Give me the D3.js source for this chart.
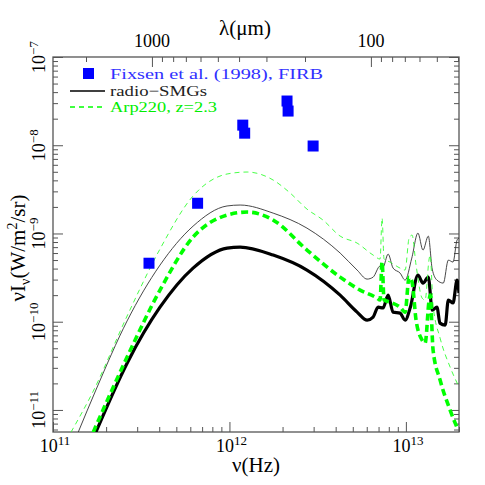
<!DOCTYPE html>
<html>
<head>
<meta charset="utf-8">
<script src="https://cdn.jsdelivr.net/npm/d3@7"></script>
<style>
body { margin: 0; background: #fff; }
svg text { font-family: "Liberation Serif", "Times New Roman", serif; }
</style>
</head>
<body>
<div id="chart"></div>
<script>
// frequencies in units of 1e12 Hz, intensities (nu I_nu) in units of 1e-9 W/m2/sr

// Fixsen et al. (1998) FIRB points
var firbNu = [0.35, 0.66, 1.19, 1.22, 2.12, 2.15, 2.98];
var firbI = [0.46, 2.2, 16.9, 13.7, 31.7, 24.4, 9.8];

// radio-SMGs, thick solid
var smgThickNu = [0.175, 0.263, 0.404, 0.622, 0.97, 1.15, 1.77, 2.75, 4.24, 5.29, 6.03, 6.52, 6.96, 7.42, 7.93, 8.46, 9.27, 9.9, 10.6, 11.7, 12.5, 13.4, 14.1, 15.0, 15.6, 16.7, 17.4, 18.5, 19.5, 20.0];
var smgThickI = [0.0056, 0.0339, 0.146, 0.405, 0.683, 0.701, 0.569, 0.385, 0.200, 0.1285, 0.1042, 0.1128, 0.146, 0.143, 0.200, 0.1285, 0.125, 0.1042, 0.146, 0.338, 0.274, 0.320, 0.135, 0.146, 0.0964, 0.0915, 0.176, 0.163, 0.296, 0.211];

// radio-SMGs, thin solid
var smgThinNu = [0.139, 0.175, 0.263, 0.404, 0.622, 0.97, 1.15, 1.77, 2.75, 4.24, 5.29, 6.03, 6.52, 7.14, 7.42, 7.93, 8.46, 9.27, 9.9, 10.8, 11.7, 12.5, 13.4, 14.1, 15.0, 16.3, 17.4, 18.5, 19.5, 20.0];
var smgThinI = [0.0056, 0.0168, 0.102, 0.438, 1.21, 2.05, 2.10, 1.70, 1.15, 0.600, 0.385, 0.304, 0.320, 0.427, 0.416, 0.584, 0.405, 0.356, 0.296, 0.526, 1.01, 0.648, 0.934, 0.395, 0.296, 0.274, 0.499, 0.474, 0.841, 0.887];

// Arp220 z=2.3, thick dashed
var arpThickNu = [0.169, 0.263, 0.404, 0.622, 0.97, 1.26, 1.77, 2.75, 4.24, 5.50, 6.87, 7.14, 7.33, 7.52, 8.14, 9.27, 9.9, 10.43, 10.84, 11.42, 12.36, 12.85, 13.54, 13.72, 14.26, 15.63, 17.81, 19.77];
var arpThickI = [0.0056, 0.0397, 0.228, 0.910, 1.617, 1.748, 1.419, 0.648, 0.320, 0.228, 0.185, 0.176, 0.474, 0.176, 0.167, 0.146, 0.1285, 0.320, 0.281, 0.1042, 0.0619, 0.0572, 0.176, 0.200, 0.0476, 0.0218, 0.00995, 0.0059];

// Arp220 z=2.3, thin dashed
var arpThinNu = [0.1265, 0.169, 0.263, 0.404, 0.622, 0.97, 1.26, 1.77, 2.21, 2.75, 3.39, 4.24, 5.29, 6.52, 7.14, 7.33, 7.52, 8.14, 9.27, 9.9, 10.43, 10.84, 11.42, 12.36, 12.85, 13.54, 13.72, 14.26, 15.63, 17.81, 20.03];
var arpThinI = [0.0056, 0.0163, 0.116, 0.666, 2.66, 4.72, 4.97, 4.03, 2.87, 1.89, 1.42, 0.934, 0.778, 0.569, 0.513, 1.495, 0.513, 0.474, 0.405, 0.385, 0.887, 0.959, 0.438, 0.185, 0.176, 0.513, 0.569, 0.154, 0.0652, 0.0306, 0.0181];

// axis tick values
var nuMajor = [1e11, 1e12, 1e13];
var nuMajorExp = ["11", "12", "13"];
var iMajor = [1e-7, 1e-8, 1e-9, 1e-10, 1e-11];
var iMajorExp = ["\u22127", "\u22128", "\u22129", "\u221210", "\u221211"];
var lamMajor = [1000, 100];

var legendLabels = ["Fixsen et al. (1998), FIRB", "radio\u2212SMGs", "Arp220, z=2.3"];

var width = 485, height = 485;
var plot = {left: 53, right: 459, top: 57, bottom: 432};

var svg = d3.select("#chart").append("svg")
    .attr("width", width)
    .attr("height", height);

var x = d3.scaleLog().domain([1e11, 2e13]).range([plot.left, plot.right]);
var y = d3.scaleLog().domain([Math.pow(10, -11.25), 1e-7]).range([plot.bottom, plot.top]);
// top wavelength axis (microns)
var xl = d3.scaleLog().domain([2830, 39.6]).range([plot.left, plot.right]);

function pairs(nu, I) {
    return nu.map(function(d, i) { return [d * 1e12, I[i] * 1e-9]; });
}

function isPow10(v) {
    var l = Math.log10(v);
    return Math.abs(l - Math.round(l)) < 1e-6;
}

var axisColor = "#555";

// ticks: minor then major, all pointing inward
function drawTicks(axis, tr, values, size) {
    var g = svg.append("g")
        .attr("transform", tr)
        .call(axis.tickValues(values).tickSize(-size).tickFormat(""));
    g.select(".domain").remove();
    g.selectAll("line").attr("stroke", axisColor).attr("stroke-width", 1);
}

var xMinor = x.ticks().filter(function(d) { return !isPow10(d); });
var yMinor = y.ticks().filter(function(d) { return !isPow10(d); });
var lMinor = xl.ticks().filter(function(d) { return !isPow10(d); });

drawTicks(d3.axisBottom(x), "translate(0," + plot.bottom + ")", xMinor, 5);
drawTicks(d3.axisBottom(x), "translate(0," + plot.bottom + ")", nuMajor, 10);
drawTicks(d3.axisTop(xl), "translate(0," + plot.top + ")", lMinor, 5);
drawTicks(d3.axisTop(xl), "translate(0," + plot.top + ")", lamMajor, 10);
drawTicks(d3.axisLeft(y), "translate(" + plot.left + ",0)", yMinor, 5);
drawTicks(d3.axisLeft(y), "translate(" + plot.left + ",0)", iMajor, 10);
drawTicks(d3.axisRight(y), "translate(" + plot.right + ",0)", yMinor, 5);
drawTicks(d3.axisRight(y), "translate(" + plot.right + ",0)", iMajor, 10);

// frame
svg.append("rect")
    .attr("x", plot.left).attr("y", plot.top)
    .attr("width", plot.right - plot.left).attr("height", plot.bottom - plot.top)
    .attr("fill", "none").attr("stroke", axisColor).attr("stroke-width", 1.3);

// tick labels
nuMajor.forEach(function(v, i) {
    var t = svg.append("text")
        .attr("x", x(v) + 2).attr("y", 452)
        .attr("text-anchor", "middle")
        .attr("font-size", 18);
    t.append("tspan").text("10");
    t.append("tspan").attr("font-size", 13).attr("dy", -7).text(nuMajorExp[i]);
});

iMajor.forEach(function(v, i) {
    var t = svg.append("text")
        .attr("transform", "translate(45," + y(v) + ") rotate(-90)")
        .attr("text-anchor", "middle")
        .attr("font-size", 18);
    t.append("tspan").text("10");
    t.append("tspan").attr("font-size", 13).attr("dy", -7).text(iMajorExp[i]);
});

lamMajor.forEach(function(v) {
    svg.append("text")
        .attr("x", xl(v)).attr("y", 47)
        .attr("text-anchor", "middle")
        .attr("font-size", 18)
        .text(v);
});

// axis titles
svg.append("text")
    .attr("x", 245).attr("y", 35)
    .attr("text-anchor", "middle")
    .attr("font-size", 21)
    .text("\u03bb(\u03bcm)");

svg.append("text")
    .attr("x", 256).attr("y", 472)
    .attr("text-anchor", "middle")
    .attr("font-size", 21)
    .text("\u03bd(Hz)");

var yt = svg.append("text")
    .attr("transform", "translate(25,248) rotate(-90)")
    .attr("text-anchor", "middle")
    .attr("font-size", 21);
yt.append("tspan").text("\u03bdI");
yt.append("tspan").attr("font-size", 14).attr("dy", 5).text("\u03bd");
yt.append("tspan").attr("dy", -5).text("(W/m");
yt.append("tspan").attr("font-size", 14).attr("dy", -8).text("2");
yt.append("tspan").attr("dy", 8).text("/sr)");

// curves
svg.append("clipPath").attr("id", "clip")
    .append("rect")
    .attr("x", plot.left).attr("y", plot.top)
    .attr("width", plot.right - plot.left).attr("height", plot.bottom - plot.top);

var line = d3.line()
    .x(function(d) { return x(d[0]); })
    .y(function(d) { return y(d[1]); })
    .curve(d3.curveMonotoneX);

var curves = svg.append("g").attr("clip-path", "url(#clip)");

curves.append("path")
    .attr("d", line(pairs(smgThinNu, smgThinI)))
    .attr("fill", "none").attr("stroke", "#333").attr("stroke-width", 0.9);

curves.append("path")
    .attr("d", line(pairs(smgThickNu, smgThickI)))
    .attr("fill", "none").attr("stroke", "#000").attr("stroke-width", 3.2);

curves.append("path")
    .attr("d", line(pairs(arpThinNu, arpThinI)))
    .attr("fill", "none").attr("stroke", "#33ff33").attr("stroke-width", 0.9)
    .attr("stroke-dasharray", "5,4");

curves.append("path")
    .attr("d", line(pairs(arpThickNu, arpThickI)))
    .attr("fill", "none").attr("stroke", "#00ff00").attr("stroke-width", 3.6)
    .attr("stroke-dasharray", "7,4");

// FIRB squares
svg.append("g").selectAll("rect")
    .data(pairs(firbNu, firbI))
    .enter().append("rect")
    .attr("x", function(d) { return x(d[0]) - 5.5; })
    .attr("y", function(d) { return y(d[1]) - 5.5; })
    .attr("width", 11).attr("height", 11)
    .attr("fill", "#0000ff");

// legend
var leg = svg.append("g");
leg.append("rect")
    .attr("x", 83).attr("y", 68).attr("width", 11).attr("height", 11)
    .attr("fill", "#0000ff");
leg.append("line")
    .attr("x1", 70).attr("x2", 105).attr("y1", 91).attr("y2", 91)
    .attr("stroke", "#000").attr("stroke-width", 1.4);
leg.append("line")
    .attr("x1", 70).attr("x2", 105).attr("y1", 107).attr("y2", 107)
    .attr("stroke", "#00ff00").attr("stroke-width", 1.4)
    .attr("stroke-dasharray", "5,4");

var legColors = ["#3030ff", "#222", "#00ee00"];
var legY = [79, 96, 112];
var legW = [213, 97, 107];
legendLabels.forEach(function(s, i) {
    leg.append("text")
        .attr("x", 110).attr("y", legY[i])
        .attr("font-size", 15)
        .attr("fill", legColors[i])
        .attr("textLength", legW[i])
        .attr("lengthAdjust", "spacingAndGlyphs")
        .text(s);
});
</script>
</body>
</html>
